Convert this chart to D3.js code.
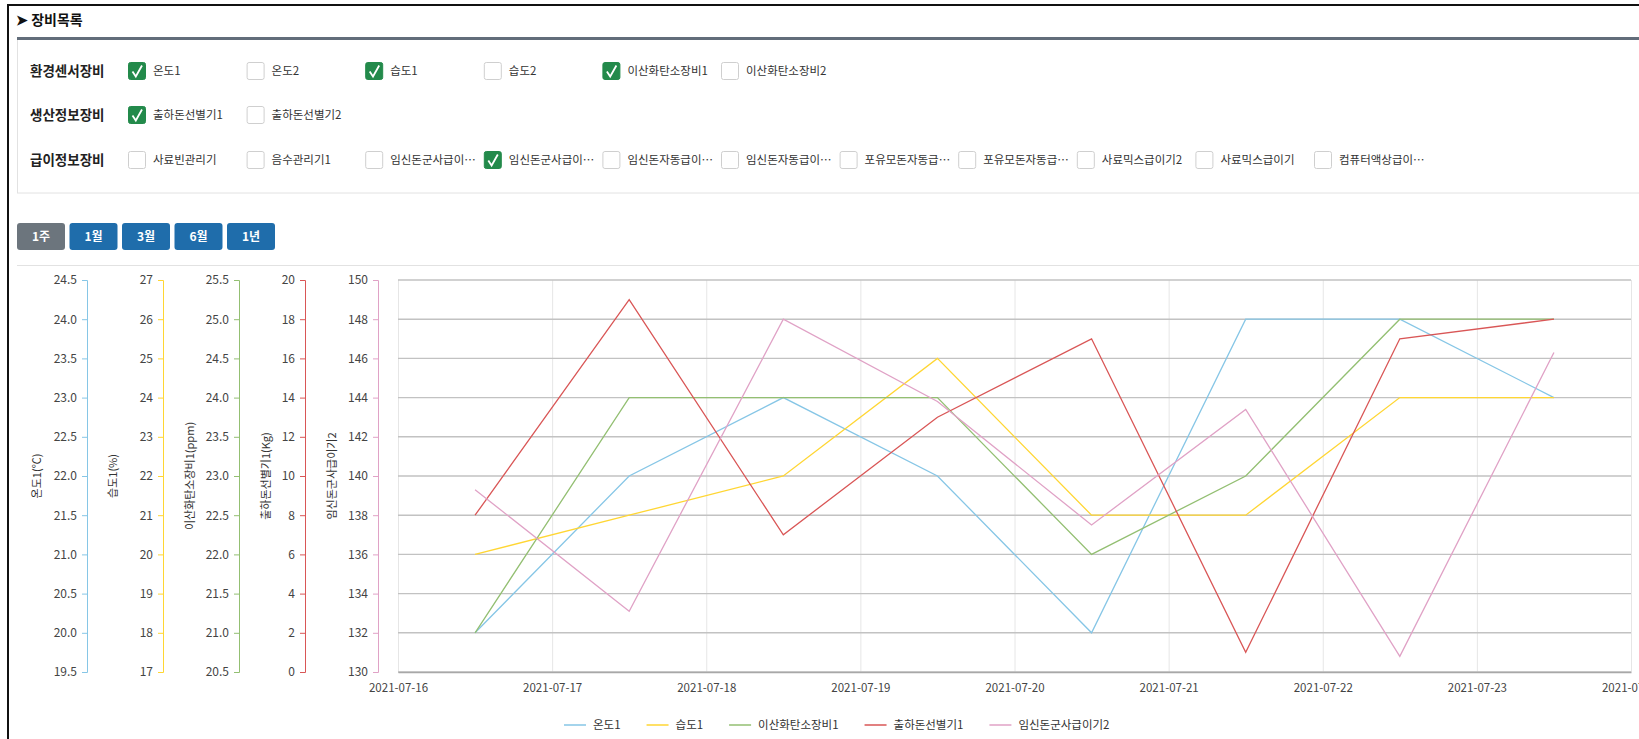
<!DOCTYPE html>
<html>
<head>
<meta charset="utf-8">
<script src="https://cdn.jsdelivr.net/npm/d3@7"></script>
<style>
  body { margin: 0; background: #fff; }
  svg { display: block; font-family: "Noto Sans CJK KR", "Noto Sans", sans-serif; }
</style>
</head>
<body>
<div id="page"></div>
<script>
// device groups / checkboxes
var groupNames = ['환경센서장비', '생산정보장비', '급이정보장비'];
var envItems = ['온도1', '온도2', '습도1', '습도2', '이산화탄소장비1', '이산화탄소장비2'];
var envChecked = [true, false, true, false, true, false];
var prodItems = ['출하돈선별기1', '출하돈선별기2'];
var prodChecked = [true, false];
var feedItems = ['사료빈관리기', '음수관리기1', '임신돈군사급이…', '임신돈군사급이…', '임신돈자동급이…', '임신돈자동급이…',
  '포유모돈자동급…', '포유모돈자동급…', '사료믹스급이기2', '사료믹스급이기', '컴퓨터액상급이…'];
var feedChecked = [false, false, false, true, false, false, false, false, false, false, false];
var periodButtons = ['1주', '1월', '3월', '6월', '1년'];

// chart data
var dates = ['2021-07-16 12:00', '2021-07-17 12:00', '2021-07-18 12:00', '2021-07-19 12:00',
  '2021-07-20 12:00', '2021-07-21 12:00', '2021-07-22 12:00', '2021-07-23 12:00'];
var seriesNames = ['온도1', '습도1', '이산화탄소장비1', '출하돈선별기1', '임신돈군사급이기2'];
var axisTitles = ['온도1(℃)', '습도1(%)', '이산화탄소장비1(ppm)', '출하돈선별기1(Kg)', '임신돈군사급이기2'];
var temp1 = [20.0, 22.0, 23.0, 22.0, 20.0, 24.0, 24.0, 23.0];
var humid1 = [20, 21, 22, 25, 21, 21, 24, 24];
var co2 = [21.0, 24.0, 24.0, 24.0, 22.0, 23.0, 25.0, 25.0];
var sorter1 = [8, 19, 7, 13, 17, 1, 17, 18];
var feeder2 = [139.3, 133.1, 148, 143.8, 137.5, 143.4, 130.8, 146.3];

var tempTicks = [19.5, 20.0, 20.5, 21.0, 21.5, 22.0, 22.5, 23.0, 23.5, 24.0, 24.5];
var humidTicks = [17, 18, 19, 20, 21, 22, 23, 24, 25, 26, 27];
var co2Ticks = [20.5, 21.0, 21.5, 22.0, 22.5, 23.0, 23.5, 24.0, 24.5, 25.0, 25.5];
var sorterTicks = [0, 2, 4, 6, 8, 10, 12, 14, 16, 18, 20];
var feederTicks = [130, 132, 134, 136, 138, 140, 142, 144, 146, 148, 150];
var xTicks = ['2021-07-16', '2021-07-17', '2021-07-18', '2021-07-19', '2021-07-20',
  '2021-07-21', '2021-07-22', '2021-07-23', '2021-07-24'];

var colors = ['#86c6e6', '#ffd633', '#93bf72', '#d95656', '#e0a2c6'];

var W = 1639, H = 739;
var svg = d3.select('#page').append('svg').attr('width', W).attr('height', H);

// outer frame
svg.append('rect').attr('x', 8).attr('y', 5).attr('width', W + 20).attr('height', H + 20)
  .attr('fill', 'none').attr('stroke', '#111').attr('stroke-width', 2);

svg.append('text').attr('x', 16).attr('y', 25)
  .attr('font-size', 14).attr('font-weight', 'bold').attr('fill', '#111')
  .text('➤ 장비목록');

// device panel
svg.append('rect').attr('x', 17.5).attr('y', 38).attr('width', W).attr('height', 155)
  .attr('fill', '#fff').attr('stroke', '#e2e2e2');
svg.append('line').attr('x1', 17).attr('x2', W).attr('y1', 38.5).attr('y2', 38.5)
  .attr('stroke', '#626d7a').attr('stroke-width', 3);

var rows = [
  { items: envItems, checked: envChecked, y: 71 },
  { items: prodItems, checked: prodChecked, y: 115 },
  { items: feedItems, checked: feedChecked, y: 160 }
];

rows.forEach(function(r, i) {
  svg.append('text').attr('x', 30).attr('y', r.y).attr('dy', '0.36em')
    .attr('font-size', 13.5).attr('font-weight', 'bold').attr('fill', '#222')
    .text(groupNames[i]);

  var g = svg.append('g').selectAll('g').data(r.items).enter().append('g')
    .attr('transform', function(d, j) { return 'translate(' + (128 + j * 118.6) + ',' + (r.y - 9) + ')'; });

  g.append('rect').attr('x', 0.5).attr('y', 0.5).attr('width', 17).attr('height', 17).attr('rx', 2)
    .attr('fill', function(d, j) { return r.checked[j] ? '#238a4b' : '#fff'; })
    .attr('stroke', function(d, j) { return r.checked[j] ? '#238a4b' : '#cfcfcf'; });

  g.filter(function(d, j) { return r.checked[j]; }).append('path')
    .attr('d', 'M4.5,9.5 L7.8,14.5 L14,3.5')
    .attr('fill', 'none').attr('stroke', '#fff').attr('stroke-width', 1.8);

  g.append('text').attr('x', 25).attr('y', 9).attr('dy', '0.36em')
    .attr('font-size', 11.5).attr('fill', '#333')
    .text(function(d) { return d; });
});

// period buttons
var btn = svg.append('g').selectAll('g').data(periodButtons).enter().append('g')
  .attr('transform', function(d, i) { return 'translate(' + (17 + i * 52.5) + ',223)'; });
btn.append('rect').attr('width', 48).attr('height', 27).attr('rx', 3)
  .attr('fill', function(d, i) { return i === 0 ? '#6c757d' : '#1f6dab'; });
btn.append('text').attr('x', 24).attr('y', 13.5).attr('dy', '0.36em')
  .attr('text-anchor', 'middle').attr('font-size', 12).attr('font-weight', 'bold').attr('fill', '#fff')
  .text(function(d) { return d; });

svg.append('line').attr('x1', 17).attr('x2', W).attr('y1', 265.5).attr('y2', 265.5)
  .attr('stroke', '#e2e2e2');

// chart
var plotTop = 280, plotBottom = 672, plotLeft = 398, plotRight = 1631;
var parse = d3.timeParse('%Y-%m-%d %H:%M');
var parseDay = d3.timeParse('%Y-%m-%d');

var x = d3.scaleTime()
  .domain([parseDay(xTicks[0]), parseDay(xTicks[xTicks.length - 1])])
  .range([plotLeft, plotRight]);

var values = [temp1, humid1, co2, sorter1, feeder2];
var tickSets = [tempTicks, humidTicks, co2Ticks, sorterTicks, feederTicks];
var tickFmt = [d3.format('.1f'), d3.format('d'), d3.format('.1f'), d3.format('d'), d3.format('d')];
var axisX = [87, 163, 239, 305, 378];
var titleX = [37, 113, 190, 266, 332];

var yScales = tickSets.map(function(t) {
  return d3.scaleLinear().domain([t[0], t[t.length - 1]]).range([plotBottom, plotTop]);
});

// grid
var grid = svg.append('g');
grid.selectAll('.vg').data(xTicks).enter().append('line')
  .attr('x1', function(d) { return x(parseDay(d)) + 0.5; })
  .attr('x2', function(d) { return x(parseDay(d)) + 0.5; })
  .attr('y1', plotTop).attr('y2', plotBottom)
  .attr('stroke', '#e6e6e6');
grid.selectAll('.hg').data(feederTicks).enter().append('line')
  .attr('x1', plotLeft).attr('x2', plotRight)
  .attr('y1', function(d) { return yScales[4](d); })
  .attr('y2', function(d) { return yScales[4](d); })
  .attr('stroke', '#c2c2c2').attr('stroke-width', 1.4);

// x axis
var xAxis = svg.append('g').attr('transform', 'translate(0,' + plotBottom + ')')
  .call(d3.axisBottom(x).tickValues(xTicks.map(parseDay)).tickSize(0).tickPadding(12)
    .tickFormat(d3.timeFormat('%Y-%m-%d')));
xAxis.select('.domain').attr('stroke', '#a8a8a8').attr('stroke-width', 1.4);
xAxis.selectAll('text').attr('font-size', 11.5).attr('fill', '#444')
  .attr('font-family', '"Noto Sans CJK KR", sans-serif');

// y axes
yScales.forEach(function(y, i) {
  var ax = svg.append('g').attr('transform', 'translate(' + axisX[i] + ',0)')
    .call(d3.axisLeft(y).tickValues(tickSets[i]).tickSizeInner(5).tickSizeOuter(5).tickPadding(5)
      .tickFormat(tickFmt[i]));
  ax.select('.domain').attr('stroke', colors[i]);
  ax.selectAll('.tick line').attr('stroke', colors[i]);
  ax.selectAll('text').attr('font-size', 12).attr('fill', '#444')
    .attr('font-family', '"Noto Sans CJK KR", sans-serif');

  svg.append('text')
    .attr('transform', 'translate(' + titleX[i] + ',' + ((plotTop + plotBottom) / 2) + ') rotate(-90)')
    .attr('text-anchor', 'middle').attr('dy', '0.36em')
    .attr('font-size', 11).attr('fill', '#333')
    .text(axisTitles[i]);
});

// lines
var pts = dates.map(parse);
values.forEach(function(v, i) {
  var line = d3.line()
    .x(function(d, j) { return x(pts[j]); })
    .y(function(d) { return yScales[i](d); });
  svg.append('path').datum(v)
    .attr('fill', 'none').attr('stroke', colors[i]).attr('stroke-width', 1.3)
    .attr('d', line);
});

// legend
var lg = svg.append('g').attr('transform', 'translate(564,725)');
var lx = 0;
seriesNames.forEach(function(name, i) {
  lg.append('line').attr('x1', lx).attr('x2', lx + 22).attr('y1', 0).attr('y2', 0)
    .attr('stroke', colors[i]).attr('stroke-width', 1.5);
  var t = lg.append('text').attr('x', lx + 29).attr('y', 0).attr('dy', '0.36em')
    .attr('font-size', 11.5).attr('fill', '#333').text(name);
  lx += 29 + t.node().getComputedTextLength() + 26;
});
</script>
</body>
</html>
